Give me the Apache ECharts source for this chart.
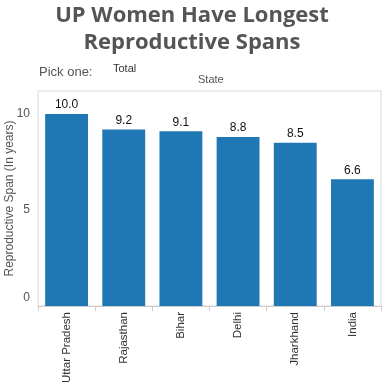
<!DOCTYPE html>
<html><head><meta charset="utf-8">
<script src="https://cdn.jsdelivr.net/npm/echarts@6/dist/echarts.min.js"></script>
<style>html,body{margin:0;padding:0;background:#fff}#c{width:384px;height:384px}</style>
</head><body><div id="c"></div>
<script>
const categories = ['Uttar Pradesh', 'Rajasthan', 'Bihar', 'Delhi', 'Jharkhand', 'India'];
const spans = [10.0, 9.2, 9.1, 8.8, 8.5, 6.6];
const yTicks = [0, 5, 10];

const chart = echarts.init(document.getElementById('c'), null, {renderer: 'canvas'});
chart.setOption({
  animation: false,
  title: {
    text: 'UP Women Have Longest\nReproductive Spans',
    left: 'center', top: -3,
    textStyle: {fontFamily: 'Open Sans', fontWeight: 'bold', fontSize: 22, color: '#555555', lineHeight: 27}
  },
  graphic: [
    {type: 'text', left: 39, top: 66, style: {text: 'Pick one:', font: '13px "Liberation Sans"', fill: '#555555'}},
    {type: 'text', left: 113, top: 63, style: {text: 'Total', font: '11px "Liberation Sans"', fill: '#333333'}},
    {type: 'text', left: 198, top: 74, style: {text: 'State', font: '11px "Liberation Sans"', fill: '#555555'}}
  ],
  grid: {left: 38, right: 3, top: 91, bottom: 78, show: true, borderColor: '#d9d9d9', borderWidth: 1,
    containLabel: false, outerBoundsMode: 'none'},
  xAxis: {
    type: 'category', data: categories,
    axisLine: {lineStyle: {color: '#cccccc'}},
    axisTick: {show: true, length: 5, lineStyle: {color: '#cccccc'}},
    axisLabel: {rotate: 90, margin: 6, fontFamily: 'Liberation Sans', fontSize: 11.5, color: '#333333'}
  },
  yAxis: {
    type: 'value', min: 0, max: 11.2, interval: 5,
    name: 'Reproductive Span (In years)', nameLocation: 'middle', nameGap: 22, nameMoveOverlap: false,
    nameTextStyle: {fontFamily: 'Liberation Sans', fontSize: 12, color: '#555555'},
    axisLine: {show: false}, axisTick: {show: false}, splitLine: {show: false},
    axisLabel: {
      margin: 8, fontFamily: 'Liberation Sans', fontSize: 12, color: '#555555',
      formatter: v => yTicks.includes(v) ? (v === 0 ? '{z|0}' : String(v)) : '',
      rich: {z: {fontFamily: 'Liberation Sans', fontSize: 12, color: '#555555', padding: [0, 0, 16, 0]}}
    }
  },
  series: [{
    type: 'bar', data: spans, barCategoryGap: '25%',
    itemStyle: {color: '#1f77b4'},
    label: {show: true, position: 'top', distance: 3, formatter: p => p.value.toFixed(1),
      fontFamily: 'Liberation Sans', fontSize: 12, color: '#111111'}
  }]
});
</script></body></html>
